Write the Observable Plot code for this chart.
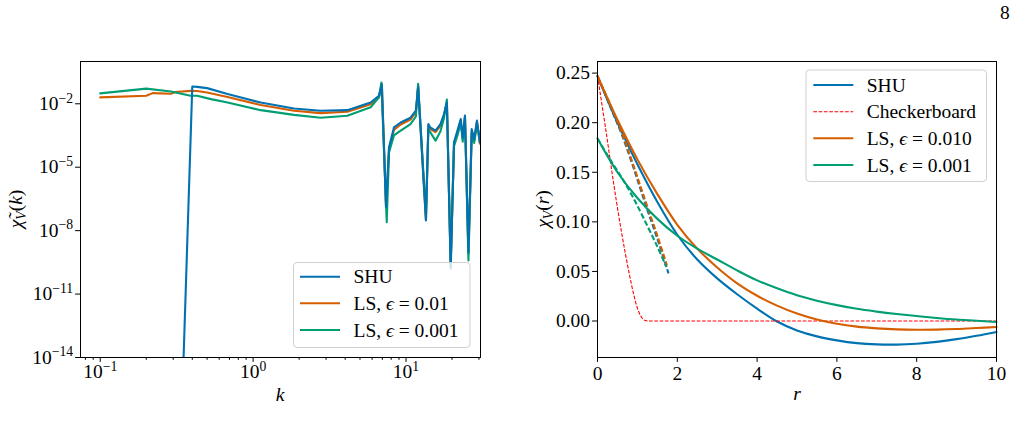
<!DOCTYPE html>
<html>
<head>
<meta charset="utf-8">
<script src="https://cdn.jsdelivr.net/npm/d3@7"></script>
<script src="https://cdn.jsdelivr.net/npm/@observablehq/plot@0.6"></script>
<style>
  html, body { margin: 0; padding: 0; background: #fff; }
  body { width: 1020px; height: 441px; overflow: hidden; position: relative; font-family: "Liberation Serif", "Times New Roman", "DejaVu Serif", serif; }
  #left { position: absolute; left: 0; top: 0; }
  #right { position: absolute; left: 500px; top: 0; }
  #page { position: absolute; left: 1000px; top: 2px; font-size: 19.5px; color: #000; }
</style>
</head>
<body>
<div id="page">8</div>
<div id="left"></div>
<div id="right"></div>
<script>
// ---- Spectral density, log-log (left) ----
const shuK   = [0.1, 0.33, 0.40, 0.43, 0.50, 0.68, 1.12, 1.85, 2.76, 4.13, 5.87, 6.65, 6.95, 7.40, 7.74, 8.34, 9.23, 10.7, 11.6, 12.0, 13.5, 14.0, 14.4, 15.6, 16.8, 17.7, 18.5, 19.6, 20.6, 21.7, 22.8, 23.5, 24.3, 25.6, 26.9, 27.9, 29.1, 30.4];
const shuChi = [1e-20, 1e-20, 6.6e-2, 6.3e-2, 5.5e-2, 2.9e-2, 1.15e-2, 6.0e-3, 4.7e-3, 5.0e-3, 1.15e-2, 2.4e-2, 7.9e-2, 1.3e-7, 8.7e-5, 7.6e-4, 1.3e-3, 2.2e-3, 4.7e-3, 6.3e-2, 3.0e-8, 1.1e-3, 7.6e-4, 5.4e-4, 1.1e-3, 3.2e-3, 1.15e-2, 1.6e-10, 1.5e-4, 5.4e-4, 1.9e-3, 2.5e-4, 2.8e-3, 9.5e-10, 6.3e-4, 2.1e-4, 1.6e-3, 1.5e-4];

const ls01K   = [0.1, 0.20, 0.22, 0.29, 0.31, 0.39, 0.43, 0.50, 0.68, 1.12, 1.85, 2.76, 4.13, 5.87, 6.65, 6.95, 7.40, 7.74, 8.34, 9.23, 10.7, 11.6, 12.0, 13.5, 14.0, 14.4, 15.6, 16.8, 17.7, 18.5, 19.6, 20.6, 21.7, 22.8, 23.5, 24.3, 25.6, 26.9, 27.9, 29.1, 30.4];
const ls01Chi = [2.0e-2, 2.4e-2, 3.2e-2, 3.0e-2, 3.6e-2, 4.1e-2, 4.0e-2, 3.4e-2, 2.1e-2, 8.7e-3, 4.7e-3, 3.6e-3, 4.2e-3, 9.5e-3, 2.0e-2, 8.5e-2, 1.3e-7, 6.5e-5, 5.8e-4, 1.05e-3, 1.8e-3, 4.0e-3, 6.6e-2, 3.2e-8, 9.0e-4, 6.4e-4, 4.6e-4, 9.0e-4, 2.8e-3, 1.2e-2, 2.0e-10, 1.3e-4, 4.6e-4, 1.6e-3, 2.2e-4, 2.5e-3, 8.0e-10, 5.4e-4, 1.8e-4, 1.4e-3, 1.3e-4];

const ls001K   = [0.1, 0.20, 0.29, 0.39, 0.43, 0.53, 0.68, 1.12, 1.85, 2.76, 4.13, 5.87, 6.65, 6.90, 7.48, 7.74, 8.34, 9.23, 10.7, 11.6, 12.0, 13.5, 14.0, 15.6, 16.8, 17.7, 18.5, 19.6, 20.6, 21.7, 22.8, 23.5, 24.3, 25.6, 26.9, 27.9, 29.1, 30.4];
const ls001Chi = [3.1e-2, 5.2e-2, 3.8e-2, 2.4e-2, 2.4e-2, 1.66e-2, 1.15e-2, 5.0e-3, 3.0e-3, 2.2e-3, 2.7e-3, 6.8e-3, 2.0e-2, 1.02e-1, 2.5e-8, 5.0e-5, 3.2e-4, 5.4e-4, 1.1e-3, 2.5e-3, 8.9e-2, 5.0e-8, 6.3e-4, 1.8e-4, 5.0e-4, 2.0e-3, 1.6e-2, 2.5e-10, 1.0e-4, 3.2e-4, 1.26e-3, 1.6e-4, 2.2e-3, 3.9e-10, 4.0e-4, 1.4e-4, 1.0e-3, 2.5e-4];

const kMajorTicks = [0.1, 1, 10];
const kMinorTicks = [0.08, 0.09, 0.2, 0.3, 0.4, 0.5, 0.6, 0.7, 0.8, 0.9, 2, 3, 4, 5, 6, 7, 8, 9, 20, 30];
const chiKTicks = [1e-14, 1e-11, 1e-8, 1e-5, 1e-2];

// ---- Two-point function in real space (right) ----
const rGrid = [0, 0.5, 1, 1.5, 2, 2.5, 3, 3.5, 4, 4.5, 5, 5.5, 6, 6.5, 7, 7.5, 8, 8.5, 9, 9.5, 10];
const shuR  = [0.247, 0.200, 0.158, 0.120, 0.087, 0.062, 0.043, 0.027, 0.0125, -0.0005, -0.0095, -0.0155, -0.0195, -0.0223, -0.0236, -0.0238, -0.0229, -0.021, -0.0183, -0.0149, -0.011];
const ls01R = [0.247, 0.203, 0.163, 0.128, 0.097, 0.073, 0.054, 0.038, 0.0255, 0.0155, 0.0075, 0.0015, -0.0028, -0.0057, -0.0074, -0.0084, -0.0088, -0.0087, -0.0081, -0.0071, -0.006];
const ls001R = [0.184, 0.150, 0.124, 0.103, 0.086, 0.073, 0.062, 0.051, 0.041, 0.033, 0.026, 0.0205, 0.016, 0.0123, 0.0095, 0.0071, 0.005, 0.0031, 0.0015, 0.0003, -0.001];

const checkerR   = [0, 0.2, 0.4, 0.6, 0.8, 0.9, 1.0, 1.1, 1.2, 1.3, 10];
const checkerChi = [0.247, 0.195, 0.140, 0.090, 0.047, 0.028, 0.013, 0.004, 0.0005, 0, 0];

const shuDashR   = [0, 0.3, 0.6, 0.9, 1.2, 1.5, 1.78];
const shuDash    = [0.247, 0.218, 0.189, 0.155, 0.118, 0.083, 0.048];
const ls01DashR  = [0, 0.3, 0.6, 0.9, 1.2, 1.5, 1.74];
const ls01Dash   = [0.247, 0.220, 0.191, 0.157, 0.121, 0.086, 0.056];
const ls001DashR = [0, 0.3, 0.6, 0.9, 1.2, 1.5, 1.72];
const ls001Dash  = [0.184, 0.164, 0.145, 0.124, 0.100, 0.075, 0.055];

const rTicks = [0, 2, 4, 6, 8, 10];
const chiRTicks = [0, 0.05, 0.10, 0.15, 0.20, 0.25];

const BLUE = "#0072B2", ORANGE = "#D55E00", GREEN = "#009E73", RED = "#ff0000";
const FONT = "'Liberation Serif', 'Times New Roman', 'DejaVu Serif', serif";
const FS = 19.5;
const NS = "http://www.w3.org/2000/svg";

const zip = (xs, ys) => xs.map((x, i) => ({x, y: ys[i]}));

const logFmt = d => "10^" + Math.round(Math.log10(d));

// ---------- left panel ----------
const leftSvg = Plot.plot({
  width: 500, height: 441,
  marginLeft: 80, marginRight: 20, marginTop: 61, marginBottom: 84,
  style: {fontFamily: FONT, fontSize: FS + "px", color: "#000", background: "transparent", overflow: "visible"},
  x: {type: "log", domain: [0.0743, 30.7]},
  y: {type: "log", domain: [1e-14, 1]},
  marks: [
    Plot.line(zip(ls01K, ls01Chi), {x: "x", y: "y", stroke: ORANGE, strokeWidth: 2.1, clip: true}),
    Plot.line(zip(ls001K, ls001Chi), {x: "x", y: "y", stroke: GREEN, strokeWidth: 2.1, clip: true}),
    Plot.line(zip(shuK, shuChi), {x: "x", y: "y", stroke: BLUE, strokeWidth: 2.1, clip: true}),
    Plot.axisX({ticks: kMinorTicks, tickFormat: () => "", tickSize: 2.8, label: null}),
    Plot.axisX({ticks: kMajorTicks, tickFormat: logFmt, tickSize: 4.9, tickPadding: 2, label: null}),
    Plot.axisY({ticks: chiKTicks, tickFormat: logFmt, tickSize: 4.9, tickPadding: 2.5, label: null}),
    Plot.frame({stroke: "#000", strokeWidth: 1})
  ]
});
document.getElementById("left").appendChild(leftSvg);

// ---------- right panel ----------
const rightSvg = Plot.plot({
  width: 520, height: 441,
  marginLeft: 97, marginRight: 24, marginTop: 61, marginBottom: 84,
  style: {fontFamily: FONT, fontSize: FS + "px", color: "#000", background: "transparent", overflow: "visible"},
  x: {domain: [0, 10]},
  y: {domain: [-0.0368, 0.2617]},
  marks: [
    Plot.line(zip(rGrid, shuR), {x: "x", y: "y", stroke: BLUE, strokeWidth: 2.1, curve: "catmull-rom"}),
    Plot.line(zip(shuDashR, shuDash), {x: "x", y: "y", stroke: BLUE, strokeWidth: 2.1, strokeDasharray: "5.5,2.4", strokeLinecap: "butt", curve: "catmull-rom"}),
    Plot.line(zip(checkerR, checkerChi), {x: "x", y: "y", stroke: RED, strokeWidth: 1.1, strokeDasharray: "3.7,1.6", strokeLinecap: "butt", curve: "monotone-x"}),
    Plot.line(zip(rGrid, ls01R), {x: "x", y: "y", stroke: ORANGE, strokeWidth: 2.1, curve: "catmull-rom"}),
    Plot.line(zip(ls01DashR, ls01Dash), {x: "x", y: "y", stroke: ORANGE, strokeWidth: 2.1, strokeDasharray: "5.5,2.4", strokeLinecap: "butt", curve: "catmull-rom"}),
    Plot.line(zip(rGrid, ls001R), {x: "x", y: "y", stroke: GREEN, strokeWidth: 2.1, curve: "catmull-rom"}),
    Plot.line(zip(ls001DashR, ls001Dash), {x: "x", y: "y", stroke: GREEN, strokeWidth: 2.1, strokeDasharray: "5.5,2.4", strokeLinecap: "butt", curve: "catmull-rom"}),
    Plot.axisX({ticks: rTicks, tickFormat: d3.format("d"), tickSize: 4.9, tickPadding: 4, label: null}),
    Plot.axisY({ticks: chiRTicks, tickFormat: d3.format(".2f"), tickSize: 4.9, tickPadding: 2.5, label: null}),
    Plot.frame({stroke: "#000", strokeWidth: 1})
  ]
});
document.getElementById("right").appendChild(rightSvg);

// ---------- helpers ----------
function el(name, attrs, parent) {
  const e = document.createElementNS(NS, name);
  for (const [k, v] of Object.entries(attrs)) e.setAttribute(k, v);
  if (parent) parent.appendChild(e);
  return e;
}

// rich text: parts = [{t, it, size, dy}]
function richText(parent, x, y, parts, opts = {}) {
  const t = el("text", {
    transform: `translate(${x},${y})` + (opts.rotate ? ` rotate(${opts.rotate})` : ""),
    "text-anchor": opts.anchor || "start",
    "font-family": FONT, "font-size": FS, fill: "#000"
  }, parent);
  for (const p of parts) {
    const s = el("tspan", {}, t);
    s.textContent = p.t;
    if (p.it) s.setAttribute("font-style", "italic");
    if (p.size) s.setAttribute("font-size", p.size);
    if (p.dy) s.setAttribute("dy", p.dy);
  }
  return t;
}

// "10^-2" -> 10 with a raised exponent
function superscripts(svg) {
  svg.querySelectorAll("text").forEach(t => {
    const m = /^10\^(-?\d+)$/.exec(t.textContent);
    if (!m) return;
    t.textContent = "";
    const base = el("tspan", {}, t);
    base.textContent = "10";
    const sup = el("tspan", {"font-size": (FS * 0.7).toFixed(2), dy: -7.5}, t);
    sup.textContent = m[1].replace("-", "\u2212");
  });
}
superscripts(leftSvg);

function legend(svg, box, rows) {
  const g = el("g", {}, svg);
  el("rect", {x: box.x, y: box.y, width: box.w, height: box.h, rx: 3.5, ry: 3.5,
    fill: "#fff", "fill-opacity": 0.8, stroke: "#d0d0d0", "stroke-width": 1}, g);
  for (const r of rows) {
    const line = el("line", {x1: box.lx1, x2: box.lx2, y1: r.y, y2: r.y, stroke: r.stroke,
      "stroke-width": r.width || 2.1}, g);
    if (r.dash) { line.setAttribute("stroke-dasharray", r.dash); }
    richText(g, box.tx, r.y + 6.5, r.parts);
  }
}

// ---------- left panel labels & legend ----------
richText(leftSvg, 280, 401, [{t: "k", it: true}], {anchor: "middle"});
richText(leftSvg, 22, 209, [
  {t: "\u03C7\u0303", it: true},
  {t: "V", it: true, size: (FS * 0.7).toFixed(2), dy: 3.5},
  {t: "(", dy: -3.5},
  {t: "k", it: true},
  {t: ")"}
], {anchor: "middle", rotate: -90});

legend(leftSvg, {x: 293.5, y: 262.5, w: 176.5, h: 85, lx1: 300, lx2: 340, tx: 353.5}, [
  {y: 276.7, stroke: BLUE, parts: [{t: "SHU"}]},
  {y: 303.3, stroke: ORANGE, parts: [{t: "LS, "}, {t: "\u03F5", it: true}, {t: " = 0.01"}]},
  {y: 330.0, stroke: GREEN, parts: [{t: "LS, "}, {t: "\u03F5", it: true}, {t: " = 0.001"}]}
]);

// ---------- right panel labels & legend ----------
richText(rightSvg, 297, 400, [{t: "r", it: true}], {anchor: "middle"});
richText(rightSvg, 49, 209, [
  {t: "\u03C7", it: true},
  {t: "V", it: true, size: (FS * 0.7).toFixed(2), dy: 3.5},
  {t: "(", dy: -3.5},
  {t: "r", it: true},
  {t: ")"}
], {anchor: "middle", rotate: -90});

legend(rightSvg, {x: 306, y: 70, w: 180.5, h: 111.5, lx1: 313.3, lx2: 353.3, tx: 366.7}, [
  {y: 85.0, stroke: BLUE, parts: [{t: "SHU"}]},
  {y: 111.7, stroke: RED, width: 1.1, dash: "3.7,1.6", parts: [{t: "Checkerboard"}]},
  {y: 138.3, stroke: ORANGE, parts: [{t: "LS, "}, {t: "\u03F5", it: true}, {t: " = 0.010"}]},
  {y: 165.0, stroke: GREEN, parts: [{t: "LS, "}, {t: "\u03F5", it: true}, {t: " = 0.001"}]}
]);
</script>
</body>
</html>
